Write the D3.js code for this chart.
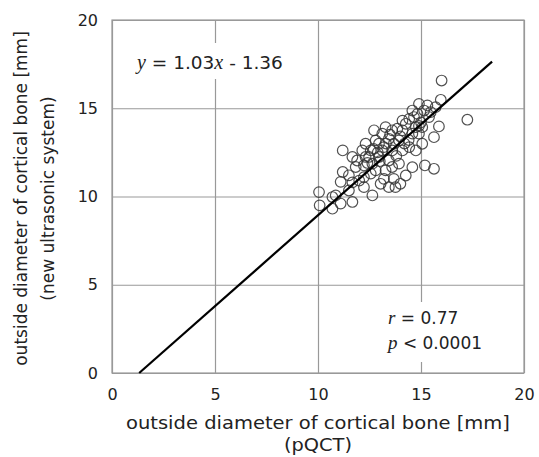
<!DOCTYPE html>
<html>
<head>
<meta charset="utf-8">
<script src="https://cdn.jsdelivr.net/npm/d3@7"></script>
<style>
  body { margin: 0; background: #fff; }
  text { font-family: "DejaVu Sans", sans-serif; fill: #222; }
</style>
</head>
<body>
<svg id="chart" width="539" height="457"></svg>
<script>
// pQCT vs new ultrasonic system, outside diameter [mm]
var xValues = [16.0, 17.25, 15.96, 15.87, 15.63, 15.06, 15.63, 15.19, 14.58, 13.93,
  13.2, 13.76, 14.26, 12.64, 11.67, 11.1, 10.7, 10.08, 10.05, 10.7,
  11.2, 11.67, 11.2, 11.5, 11.83, 12.23, 12.0, 12.23, 11.1, 12.56,
  12.8, 13.12, 13.44, 13.85, 14.43, 14.83, 15.31, 14.58, 13.12, 12.96,
  13.44, 12.64, 12.31, 12.8, 13.28, 13.6, 14.1, 14.43, 14.75, 14.9,
  14.58, 15.06, 15.39, 15.0, 13.6, 13.28, 14.1, 14.66, 14.26, 12.96,
  12.48, 12.15, 11.9, 12.56, 13.04, 13.68, 14.0, 13.44, 12.23, 12.72,
  12.31, 13.68, 13.93, 13.6, 14.1, 14.75, 15.47, 15.71, 15.15, 14.9,
  11.5, 11.67, 10.86, 12.9, 13.2, 13.0, 12.7, 13.3, 13.5, 14.2,
  14.0, 12.4, 13.8, 14.4, 14.9];
var yValues = [16.57, 14.35, 15.48, 13.97, 13.36, 12.99, 11.57, 11.76, 11.66, 11.86,
  11.0, 10.53, 11.19, 10.06, 9.69, 9.6, 9.31, 9.5, 10.25, 9.97,
  12.61, 12.24, 11.39, 11.2, 11.67, 11.76, 10.9, 10.53, 10.83, 12.61,
  13.18, 13.56, 13.27, 13.84, 14.4, 14.68, 15.16, 14.87, 12.61, 12.24,
  12.04, 11.86, 12.24, 11.48, 11.48, 11.67, 12.61, 12.8, 12.61, 13.56,
  13.56, 13.93, 14.5, 14.2, 13.75, 13.93, 14.3, 14.5, 14.12, 12.99,
  12.24, 12.61, 12.04, 11.3, 10.72, 11.0, 10.72, 10.53, 11.1, 13.75,
  12.99, 12.99, 13.18, 12.61, 13.75, 13.93, 14.78, 15.06, 14.87, 15.25,
  10.34, 10.8, 10.06, 12.5, 12.8, 12.0, 12.7, 13.0, 13.5, 13.0,
  13.4, 11.9, 12.3, 13.2, 14.0];
var ticks = [0, 5, 10, 15, 20];
var fitSlope = 1.03, fitIntercept = -1.36;
var fitRange = [1.32, 18.45];
var xTitle = ['outside diameter of cortical bone [mm]', '(pQCT)'];
var yTitle = ['outside diameter of cortical bone [mm]', '(new ultrasonic system)'];

var margin = {top: 20, right: 15, bottom: 84, left: 112};
var width = 539 - margin.left - margin.right;
var height = 457 - margin.top - margin.bottom;

var x = d3.scaleLinear().domain([0, 20]).range([0, width]);
var y = d3.scaleLinear().domain([0, 20]).range([height, 0]);

var svg = d3.select('#chart')
  .append('g')
  .attr('transform', 'translate(' + margin.left + ',' + margin.top + ')');

// gridlines
svg.append('g')
  .call(d3.axisBottom(x).tickValues(ticks).tickSize(height).tickFormat(''))
  .call(g => g.select('.domain').remove())
  .selectAll('line').attr('stroke', '#999').attr('stroke-width', 1.2);
svg.append('g')
  .call(d3.axisLeft(y).tickValues(ticks).tickSize(-width).tickFormat(''))
  .call(g => g.select('.domain').remove())
  .selectAll('line').attr('stroke', '#999').attr('stroke-width', 1.2);

svg.append('rect')
  .attr('width', width).attr('height', height)
  .attr('fill', 'none').attr('stroke', '#999').attr('stroke-width', 1.2);

// tick labels
var xAxis = svg.append('g')
  .attr('transform', 'translate(0,' + height + ')')
  .call(d3.axisBottom(x).tickValues(ticks).tickSize(0).tickPadding(16));
xAxis.select('.domain').remove();
xAxis.selectAll('text').style('font-size', '16px').attr('fill', '#222');

var yAxis = svg.append('g')
  .call(d3.axisLeft(y).tickValues(ticks).tickSize(0).tickPadding(14));
yAxis.select('.domain').remove();
yAxis.selectAll('text').style('font-size', '16px').attr('fill', '#222');

// white boxes behind the annotations
svg.append('rect').attr('x', 15).attr('y', 23).attr('width', 175).attr('height', 36).attr('fill', '#fff');
svg.append('rect').attr('x', 266).attr('y', 282).attr('width', 110).attr('height', 60).attr('fill', '#fff');

// points
var points = xValues.map((v, i) => ({x: v, y: yValues[i]}));
svg.selectAll('.pt')
  .data(points)
  .enter()
  .append('circle')
  .attr('class', 'pt')
  .attr('cx', d => x(d.x))
  .attr('cy', d => y(d.y))
  .attr('r', 5.3)
  .attr('fill', 'none')
  .attr('stroke', '#333')
  .attr('stroke-opacity', 0.85)
  .attr('stroke-width', 1.2);

// regression line
var line = d3.line().x(d => x(d)).y(d => y(fitSlope * d + fitIntercept));
svg.append('path')
  .datum(fitRange)
  .attr('d', line)
  .attr('fill', 'none')
  .attr('stroke', '#000')
  .attr('stroke-width', 2.2);

// annotations
function italic(sel, t, size)
{
  sel.append('tspan').text(t)
    .style('font-family', '"Liberation Serif", serif')
    .style('font-style', 'italic')
    .style('font-size', size);
}

var eq = svg.append('text').attr('x', 25).attr('y', 49).style('font-size', '18.5px');
italic(eq, 'y', '20px');
eq.append('tspan').text(' = 1.03');
italic(eq, 'x', '20px');
eq.append('tspan').text(' - 1.36');

var rt = svg.append('text').attr('x', 276).attr('y', 304).style('font-size', '17px');
italic(rt, 'r', '19px');
rt.append('tspan').text(' = 0.77');
var pt = svg.append('text').attr('x', 276).attr('y', 329).style('font-size', '17px');
italic(pt, 'p', '19px');
pt.append('tspan').text(' < 0.0001');

// axis titles
svg.selectAll('.xt')
  .data(xTitle)
  .enter()
  .append('text')
  .attr('x', width / 2)
  .attr('y', (d, i) => height + 56 + i * 22)
  .attr('text-anchor', 'middle')
  .attr('textLength', (d, i) => i == 0 ? 384 : 68)
  .attr('lengthAdjust', 'spacingAndGlyphs')
  .style('font-size', '17px')
  .text(d => d);

svg.selectAll('.yt')
  .data(yTitle)
  .enter()
  .append('text')
  .attr('transform', (d, i) => 'translate(' + (-85 + i * 27) + ',' + (height / 2 + 2) + ') rotate(-90)')
  .attr('text-anchor', 'middle')
  .style('font-size', '17px')
  .text(d => d);
</script>
</body>
</html>
